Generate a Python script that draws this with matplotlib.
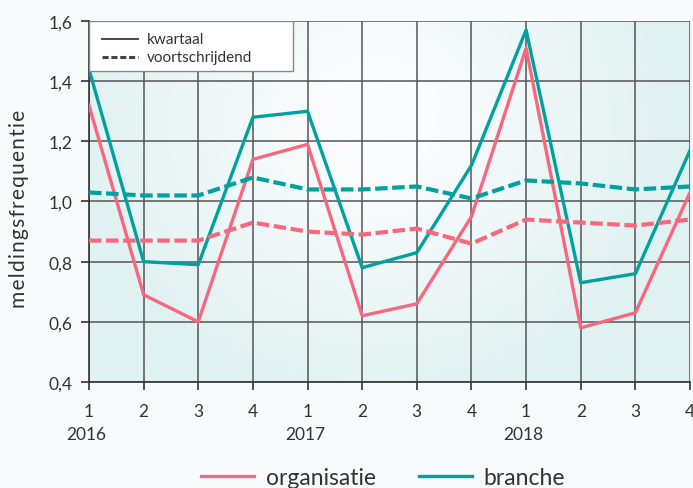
import matplotlib.pyplot as plt
import numpy as np
from matplotlib.colors import LinearSegmentedColormap
from matplotlib.lines import Line2D
from matplotlib.patches import Rectangle

quarters = ['1', '2', '3', '4'] * 3
years = ['2016', '2017', '2018']
org_kwartaal = [1.32, 0.69, 0.60, 1.14, 1.19, 0.62, 0.66, 0.95, 1.51, 0.58, 0.63, 1.03]
branche_kwartaal = [1.44, 0.80, 0.79, 1.28, 1.30, 0.78, 0.83, 1.12, 1.57, 0.73, 0.76, 1.17]
org_voortschr = [0.87, 0.87, 0.87, 0.93, 0.90, 0.89, 0.91, 0.86, 0.94, 0.93, 0.92, 0.94]
branche_voortschr = [1.03, 1.02, 1.02, 1.08, 1.04, 1.04, 1.05, 1.01, 1.07, 1.06, 1.04, 1.05]

pink = '#f7687f'
teal = '#00a19e'
txt = '#333333'

plt.rcParams['font.family'] = ['Lato', 'DejaVu Sans']

fig = plt.figure(figsize=(6.93, 4.89), dpi=100, facecolor='#f8fbfc')
ax = fig.add_axes([0.1284, 0.2168, 0.8673, 0.7382])

x = np.arange(len(quarters))
ax.set_xlim(0, len(quarters) - 1)
ax.set_ylim(0.4, 1.6)

# achtergrond verloop
gx, gy = np.meshgrid(np.linspace(-1, 1, 300), np.linspace(-1, 1, 200))
r = np.sqrt(((gx + 0.05) / 1.0) ** 2 + ((gy - 0.45) / 1.6) ** 2)
cmap = LinearSegmentedColormap.from_list('bg', ['#fafcfd', '#e0f1f1'])
ax.imshow(r, extent=[0, 11, 0.4, 1.6], origin='lower', aspect='auto',
          cmap=cmap, vmin=0.2, vmax=1.0, zorder=0)

ax.grid(True, color='#555555', linewidth=1.1, zorder=1)
ax.set_axisbelow(True)
for s in ['top', 'right']:
    ax.spines[s].set_visible(False)
for s in ['left', 'bottom']:
    ax.spines[s].set_color('#333333')
    ax.spines[s].set_linewidth(1.2)

ax.plot(x, org_kwartaal, color=pink, lw=2.4, zorder=3)
ax.plot(x, branche_kwartaal, color=teal, lw=2.4, zorder=3)
ax.plot(x, org_voortschr, color=pink, lw=3.0, ls=(0, (3, 1.1)), zorder=3)
ax.plot(x, branche_voortschr, color=teal, lw=3.0, ls=(0, (3, 1.1)), zorder=3)

ax.set_yticks([0.4, 0.6, 0.8, 1.0, 1.2, 1.4, 1.6])
ax.set_yticklabels(['0,4', '0,6', '0,8', '1,0', '1,2', '1,4', '1,6'])
ax.set_xticks(x)
ax.set_xticklabels(quarters)
ax.tick_params(axis='both', colors='#333333', labelcolor=txt, labelsize=12.5,
               length=6, width=1.2)
ax.tick_params(axis='x', pad=9)
ax.tick_params(axis='y', pad=6)

for i, yr in enumerate(years):
    ax.text(i * 4 - 0.05, -0.144, yr, transform=ax.get_xaxis_transform(),
            ha='center', va='center', fontsize=12.5, color=txt)

label = '\u200a'.join('meldingsfrequentie')
ax.set_ylabel(label, fontsize=15, color=txt)
ax.yaxis.set_label_coords(-0.1, 0.482)

# legenda linksboven
ax.add_patch(Rectangle((0, 0.861), 0.339, 0.139, transform=ax.transAxes,
                       facecolor='white', edgecolor='#888888', lw=1.0, zorder=5))
ax.add_line(Line2D([0.0216, 0.0815], [0.950, 0.950], transform=ax.transAxes,
                   color='#444444', lw=1.4, zorder=6))
ax.add_line(Line2D([0.0216, 0.0815], [0.900, 0.900], transform=ax.transAxes,
                   color='#444444', lw=2.2, ls=(0, (2, 0.9)), zorder=6))
ax.text(0.0965, 0.950, 'kwartaal', transform=ax.transAxes, fontsize=11,
        color=txt, va='center', ha='left', zorder=6)
ax.text(0.0965, 0.900, 'voortschrijdend', transform=ax.transAxes, fontsize=11,
        color=txt, va='center', ha='left', zorder=6)

handles2 = [Line2D([], [], color=pink, lw=2.4), Line2D([], [], color=teal, lw=2.4)]
fig.legend(handles2, ['organisatie', 'branche'], loc='center',
           bbox_to_anchor=(0.553, 0.022), ncol=2, frameon=False, fontsize=16.5,
           handlelength=2.3, handletextpad=0.52, columnspacing=1.9, labelcolor=txt)

fig.savefig('out.png', dpi=100, facecolor=fig.get_facecolor())
